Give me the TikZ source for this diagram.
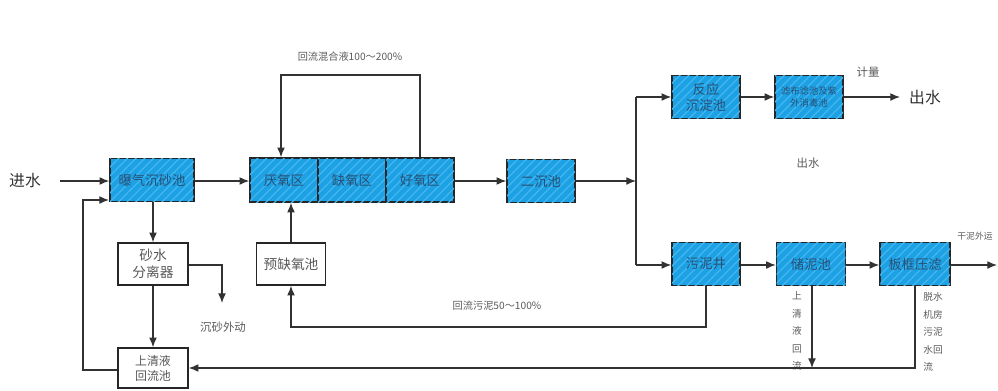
\documentclass[tikz,border=0pt]{standalone}
\usepackage{fontspec}
\newfontfamily\cjk{Noto Sans CJK SC}
\usetikzlibrary{arrows.meta,patterns.meta}
\definecolor{boxblue}{RGB}{28,162,228}
\definecolor{stripeblue}{RGB}{70,182,238}
\definecolor{boxtext}{RGB}{40,80,120}
\definecolor{lbl}{RGB}{90,90,90}
\definecolor{ln}{RGB}{50,50,50}
\tikzset{
  px/.style={x=0.02cm,y=-0.02cm},
  bluebox/.style={draw=black!85, line width=0.9pt, fill=boxblue,
    postaction={pattern={Lines[angle=45,distance=3.5pt,line width=0.7pt]}, pattern color=stripeblue},
    minimum width=1.36cm, minimum height=0.86cm, inner sep=0pt, align=center,
    font=\cjk\fontsize{7.6}{9}\selectfont, text=boxtext},
  whitebox/.style={draw=black!85, line width=0.9pt, fill=white,
    minimum width=1.4cm, minimum height=0.84cm, inner sep=0pt, align=center,
    font=\cjk\fontsize{7.8}{10}\selectfont, text=black!65},
  conn/.style={draw=ln, line width=0.7pt},
  arr/.style={conn, -{Latex[length=5.5pt,width=4.5pt]}},
  lab/.style={font=\cjk\fontsize{5.8}{7}\selectfont, text=lbl, inner sep=0pt},
}
\begin{document}
\begin{tikzpicture}[px]
\useasboundingbox (0,0) rectangle (998,390);
% nodes
\node[font=\cjk\fontsize{9}{10}\selectfont, text=black!80, inner sep=0pt] (in) at (25,181) {进水};
\node[bluebox, minimum width=1.68cm] (A) at (152,180) {曝气沉砂池};
\node[bluebox, minimum height=0.88cm] (yan) at (284,180) {厌氧区};
\node[bluebox, minimum height=0.88cm] (que) at (352,180) {缺氧区};
\node[bluebox, minimum height=0.88cm] (hao) at (420,180) {好氧区};
\node[bluebox] (ec) at (541,181) {二沉池};
\node[bluebox] (fy) at (706,97) {反应\\沉淀池};
\node[bluebox, font=\cjk\fontsize{5.3}{7}\selectfont] (lb) at (809,97) {滤布滤池及紫\\外消毒池};
\node[bluebox] (wnj) at (706,264) {污泥井};
\node[bluebox, minimum width=1.38cm] (cnj) at (811,264) {储泥池};
\node[bluebox, minimum width=1.4cm] (bk) at (915,264) {板框压滤};
\node[whitebox] (ss) at (153,264) {砂水\\分离器};
\node[whitebox, minimum width=1.38cm] (yq) at (291,264) {预缺氧池};
\node[whitebox, minimum height=0.8cm, font=\cjk\fontsize{6.8}{8.5}\selectfont] (sq) at (153,368) {上清液\\回流池};
\node[font=\cjk\fontsize{9}{10}\selectfont, text=black!80, inner sep=0pt] (out) at (925,97) {出水};
% labels
\node[lab] (l1) at (350,57) {回流混合液100～200\%};
\node[lab] (l2) at (497,306) {回流污泥50～100\%};
\node[lab, font=\cjk\fontsize{6.5}{8}\selectfont] (l3) at (223,327) {沉砂外动};
\node[lab, font=\cjk\fontsize{6.5}{8}\selectfont] (l4) at (868,72) {计量};
\node[lab, font=\cjk\fontsize{6.5}{8}\selectfont] (l5) at (808,163) {出水};
\node[lab, font=\cjk\fontsize{5}{6}\selectfont] (l6) at (975,236) {干泥外运};
\node[lab, font=\cjk\fontsize{5.5}{10}\selectfont, align=center] (l7) at (797,331) {上\\清\\液\\回\\流};
\node[lab, font=\cjk\fontsize{5.5}{10}\selectfont, align=left] (l8) at (933,332) {脱水\\机房\\污泥\\水回\\流};
% coordinates
\coordinate (inS) at (60,181);
\coordinate (split) at (636,181);
\coordinate (vtop) at (636,97);
\coordinate (vbot) at (636,265);
\coordinate (sandEnd) at (222,303);
\coordinate (outEnd) at (900,97);
\coordinate (dryEnd) at (997,265);
\coordinate (cnjEnd) at (812,368);
% main flow
\draw[arr] (inS) -- (A.west |- inS);
\draw[arr] (A.east |- inS) -- (yan.west |- inS);
\draw[arr] (hao.east |- inS) -- (ec.west |- inS);
\draw[arr] (ec.east |- inS) -- (split);
\draw[conn] (vtop) -- (vbot);
\draw[arr] (vtop) -- (fy.west);
\draw[arr] (vbot) -- (wnj.west |- vbot);
\draw[arr] (fy.east) -- (lb.west);
\draw[arr] (lb.east) -- (outEnd);
\draw[arr] (wnj.east |- vbot) -- (cnj.west |- vbot);
\draw[arr] (cnj.east |- vbot) -- (bk.west |- vbot);
\draw[arr] (bk.east |- vbot) -- (dryEnd);
% mixed liquor recycle
\draw[arr] (hao.north) -- (420,75) -- (281,75) -- (yan.north -| 281,0);
% sludge return
\draw[arr] (wnj.south) -- (706,327) -- (291,327) -- (yq.south);
\draw[arr] (yq.north) -- (yan.south -| yq.north);
% grit
\draw[arr] (A.south -| ss.north) -- (ss.north);
\draw[arr] (ss.south) -- (sq.north);
\draw[arr] (ss.east |- 0,265) -- (222,265) -- (sandEnd);
\draw[arr] (sq.west |- 0,370) -- (83,370) -- (83,200) -- (109,200);
% supernatant returns
\draw[arr] (bk.south -| 915,0) -- (915,368) -- (sq.east |- 0,368);
\draw[arr] (cnj.south -| 812,0) -- (cnjEnd);
\end{tikzpicture}
\end{document}
